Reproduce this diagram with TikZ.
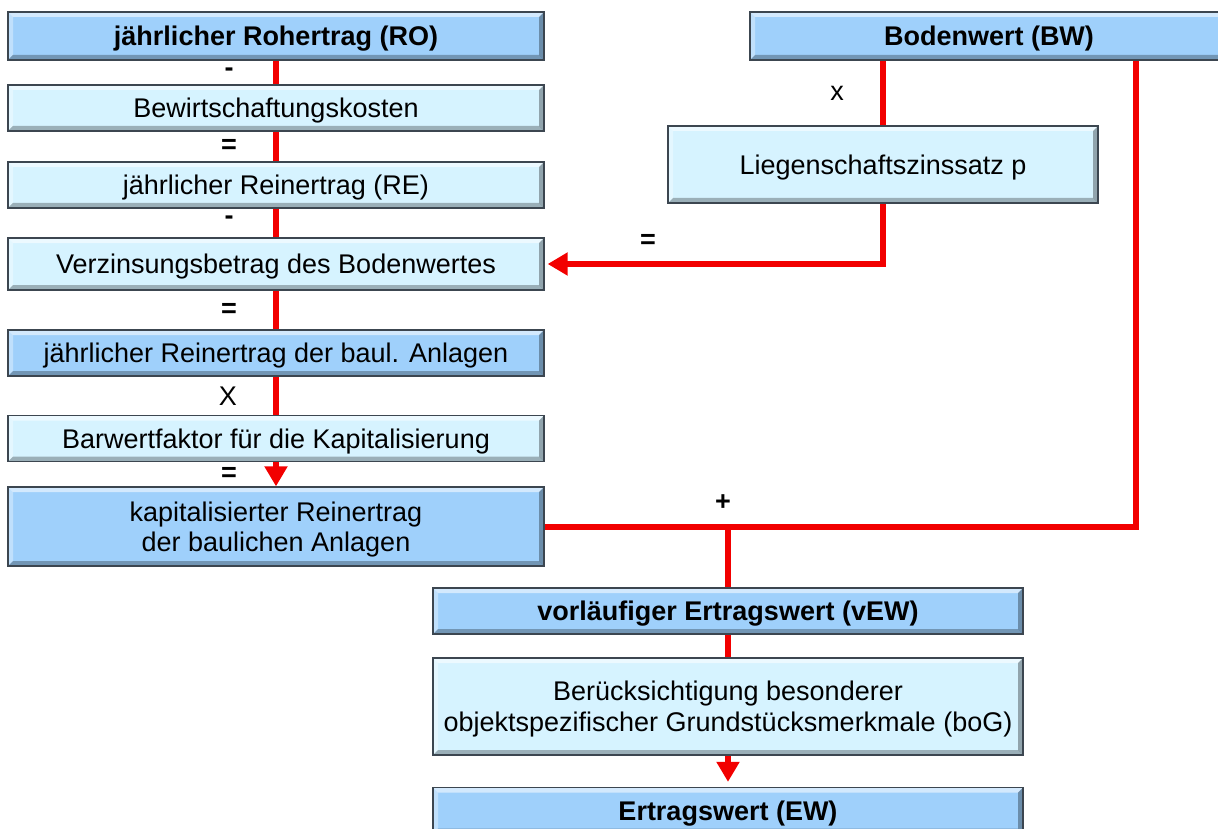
\documentclass[tikz,border=0pt]{standalone}
\usepackage{fontspec}
\setmainfont{Liberation Sans}
\usetikzlibrary{arrows.meta,backgrounds}
\definecolor{darkbox}{HTML}{9FD0FB}
\definecolor{lightbox}{HTML}{D6F3FF}
\definecolor{boxedge}{HTML}{3C4650}
\definecolor{flowred}{HTML}{F20000}
\tikzset{
  bevelbox/.style={draw=boxedge, line width=1.3pt, fill=#1, inner sep=0pt,
    align=center, font=\fontsize{27}{30}\selectfont, text depth=0pt,
    path picture={
      \fill[white,opacity=0.55] (path picture bounding box.north west) -- (path picture bounding box.north east)
        -- ([xshift=-5pt,yshift=-5pt]path picture bounding box.north east)
        -- ([xshift=5pt,yshift=-5pt]path picture bounding box.north west) -- cycle;
      \fill[white,opacity=0.35] (path picture bounding box.north west) -- (path picture bounding box.south west)
        -- ([xshift=5pt,yshift=5pt]path picture bounding box.south west)
        -- ([xshift=5pt,yshift=-5pt]path picture bounding box.north west) -- cycle;
      \fill[black,opacity=0.28] (path picture bounding box.south west) -- (path picture bounding box.south east)
        -- ([xshift=-5pt,yshift=5pt]path picture bounding box.south east)
        -- ([xshift=5pt,yshift=5pt]path picture bounding box.south west) -- cycle;
      \fill[black,opacity=0.32] (path picture bounding box.north east) -- (path picture bounding box.south east)
        -- ([xshift=-5pt,yshift=5pt]path picture bounding box.south east)
        -- ([xshift=-5pt,yshift=-5pt]path picture bounding box.north east) -- cycle;
    }},
  darkb/.style={bevelbox=darkbox},
  lightb/.style={bevelbox=lightbox},
  boldtext/.style={font=\fontsize{27}{30}\selectfont\bfseries},
  redline/.style={draw=flowred, line width=6pt},
  redarrow/.style={redline, -{Triangle[length=20pt,width=22pt]}},
  opl/.style={font=\fontsize{27}{30}\selectfont, inner sep=0pt},
  opb/.style={font=\fontsize{27}{30}\selectfont\bfseries, inner sep=0pt},
}
\begin{document}
\begin{tikzpicture}[x=1pt,y=-1pt]
\useasboundingbox (0,0) rectangle (1218,829);
% left column
\node[darkb, boldtext, minimum width=536pt, minimum height=48pt] (ro) at (276,36) {jährlicher Rohertrag (RO)};
\node[lightb, minimum width=536pt, minimum height=46pt] (bew) at (276,108) {Bewirtschaftungskosten};
\node[lightb, minimum width=536pt, minimum height=46pt] (re) at (276,185) {jährlicher Reinertrag (RE)};
\node[lightb, minimum width=536pt, minimum height=52pt] (verz) at (276,264) {Verzinsungsbetrag des Bodenwertes};
\node[darkb, minimum width=536pt, minimum height=46pt] (rba) at (276,353) {jährlicher Reinertrag der baul. Anlagen};
\node[lightb, minimum width=536pt, minimum height=46pt] (bar) at (276,438.5) {Barwertfaktor für die Kapitalisierung};
\node[darkb, minimum width=536pt, minimum height=79pt] (kap) at (276,526.5) {kapitalisierter Reinertrag\\ der baulichen Anlagen};
% right column
\node[darkb, boldtext, minimum width=478pt, minimum height=48pt] (bw) at (989,36) {Bodenwert (BW)};
\node[lightb, minimum width=430pt, minimum height=77pt] (lz) at (883,164.5) {Liegenschaftszinssatz p};
% bottom column
\node[darkb, boldtext, minimum width=590pt, minimum height=46pt] (vew) at (728,611) {vorläufiger Ertragswert (vEW)};
\node[lightb, minimum width=590pt, minimum height=97pt, font=\fontsize{27}{31}\selectfont] (bog) at (728,706.5) {Berücksichtigung besonderer\\ objektspezifischer Grundstücksmerkmale (boG)};
\node[darkb, boldtext, minimum width=590pt, minimum height=46pt] (ew) at (728,810.5) {Ertragswert (EW)};
% operators
\node[opb] (o1) at (229,72) {-};
\node[opb] (o2) at (229,146) {=};
\node[opb] (o3) at (229,220) {-};
\node[opb] (o4) at (229,310) {=};
\node[opl] (o5) at (228,396) {X};
\node[opb] (o6) at (229,474) {=};
\node[opl] (o7) at (837,93) {x};
\node[opb] (o8) at (648,241) {=};
\node[opb] (o9) at (723,503) {+};
\coordinate (cr) at (1136,526.5);
% connectors
\begin{scope}[on background layer]
\draw[redarrow] (ro.south) -- (kap.north);
\draw[redline] (lz.north) -- (lz.north |- bw.south);
\draw[redarrow] (lz.south) |- ([xshift=3pt]verz.east);
\draw[redline] (cr |- bw.south) -- (cr) -- (kap.east);
\draw[redline] (vew.north) -- (vew.north |- kap.east);
\draw[redline] (vew.south) -- (bog.north);
\draw[redarrow] (bog.south) -- ([yshift=5pt]ew.north);
\end{scope}
\end{tikzpicture}
\end{document}
